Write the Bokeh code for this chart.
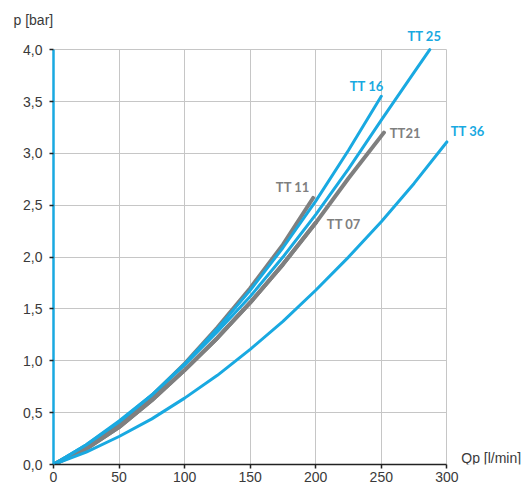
from bokeh.plotting import figure
from bokeh.models import Range1d, Label, FixedTicker, CustomJSTickFormatter, Title
from bokeh.embed import file_html
from bokeh.resources import INLINE

# ---- data ----
tt11_x = [0, 25, 50, 75, 100, 125, 150, 175, 198]
tt11_y = [0, 0.17, 0.39, 0.66, 0.97, 1.32, 1.70, 2.12, 2.57]

tt07_x = [0, 25, 50, 75, 100, 125, 150, 175, 200]
tt07_y = [0, 0.15, 0.36, 0.62, 0.91, 1.22, 1.56, 1.93, 2.33]

tt21_x = [0, 25, 50, 75, 100, 125, 150, 175, 200, 225, 252]
tt21_y = [0, 0.15, 0.36, 0.62, 0.91, 1.22, 1.56, 1.93, 2.33, 2.76, 3.20]

tt16_x = [0, 25, 50, 75, 100, 125, 150, 175, 200, 225, 250]
tt16_y = [0, 0.19, 0.41, 0.67, 0.97, 1.31, 1.68, 2.09, 2.54, 3.03, 3.55]

tt25_x = [0, 25, 50, 75, 100, 125, 150, 175, 200, 225, 250, 275, 287]
tt25_y = [0, 0.19, 0.42, 0.67, 0.96, 1.28, 1.62, 2.00, 2.41, 2.85, 3.32, 3.78, 4.00]

tt36_x = [0, 25, 50, 75, 100, 125, 150, 175, 200, 225, 250, 275, 300]
tt36_y = [0, 0.12, 0.27, 0.44, 0.64, 0.86, 1.11, 1.38, 1.68, 2.00, 2.34, 2.71, 3.11]

x_ticks = [0, 50, 100, 150, 200, 250, 300]
y_ticks = [0.0, 0.5, 1.0, 1.5, 2.0, 2.5, 3.0, 3.5, 4.0]

# curve labels: (text, x, y, colour key)
labels = [
    ("TT 25", 270, 4.13, "blue"),
    ("TT 16", 226, 3.645, "blue"),
    ("TT21", 256.5, 3.20, "gray"),
    ("TT 36", 303, 3.22, "blue"),
    ("TT 11", 169.6, 2.68, "gray"),
    ("TT 07", 208.5, 2.32, "gray"),
]

BLUE = "#19a9e1"
GRAY = "#7f7f7f"
TXT = "#3a3a3a"
colors = {"blue": BLUE, "gray": GRAY}

p = figure(width=525, height=486, output_backend="svg", toolbar_location=None,
           x_range=Range1d(0, 360), y_range=Range1d(0, 4.204),
           min_border_left=53, min_border_right=0, min_border_top=28,
           min_border_bottom=22)
p.outline_line_color = None
p.background_fill_color = "white"
p.border_fill_color = "white"

p.add_layout(Title(text="p [bar]", align="left", offset=-40, text_font="Liberation Sans",
                   text_font_size="14px", text_font_style="normal", text_color=TXT,
                   standoff=2), "above")

# grid
p.xgrid.ticker = FixedTicker(ticks=x_ticks)
p.ygrid.ticker = FixedTicker(ticks=y_ticks)
p.grid.grid_line_color = "#c6c6c6"
p.grid.grid_line_width = 1
p.xgrid.cross_bounds = (0, 4.0)
p.ygrid.cross_bounds = (0, 300)

# axes
p.xaxis.ticker = FixedTicker(ticks=x_ticks)
p.yaxis.ticker = FixedTicker(ticks=y_ticks)
p.xaxis.bounds = (0, 300)
p.yaxis.bounds = (0, 4.0)
p.yaxis.formatter = CustomJSTickFormatter(code="return tick.toFixed(1).replace('.', ',');")
p.xaxis.axis_line_color = "#222222"
p.xaxis.axis_line_width = 1.5
p.yaxis.axis_line_color = BLUE
p.yaxis.axis_line_width = 2.5
for ax in (p.xaxis[0], p.yaxis[0]):
    ax.major_tick_in = 0
    ax.major_tick_out = 4
    ax.minor_tick_line_color = None
    ax.major_tick_line_color = "#222222"
    ax.major_tick_line_width = 1.5
    ax.major_label_text_font = "Liberation Sans"
    ax.major_label_text_font_size = "14px"
    ax.major_label_text_color = TXT
p.yaxis.major_label_standoff = 7
p.xaxis.major_label_standoff = 3

# curves: gray under blue
for xs, ys in ((tt11_x, tt11_y), (tt07_x, tt07_y), (tt21_x, tt21_y)):
    p.line(xs, ys, line_color=GRAY, line_width=4, line_cap="round")
for xs, ys in ((tt16_x, tt16_y), (tt25_x, tt25_y), (tt36_x, tt36_y)):
    p.line(xs, ys, line_color=BLUE, line_width=3, line_cap="round")

for t, x, y, c in labels:
    p.add_layout(Label(x=x, y=y, text=t, text_color=colors[c],
                       text_font="Lato", text_font_style="bold",
                       text_font_size="13px", text_baseline="middle"))

p.add_layout(Label(x=311, y=0.06, text="Qp [l/min]", text_color=TXT,
                   text_font="Liberation Sans", text_font_size="14px",
                   text_baseline="middle"))

open("out.html", "w").write(file_html(p, INLINE))
